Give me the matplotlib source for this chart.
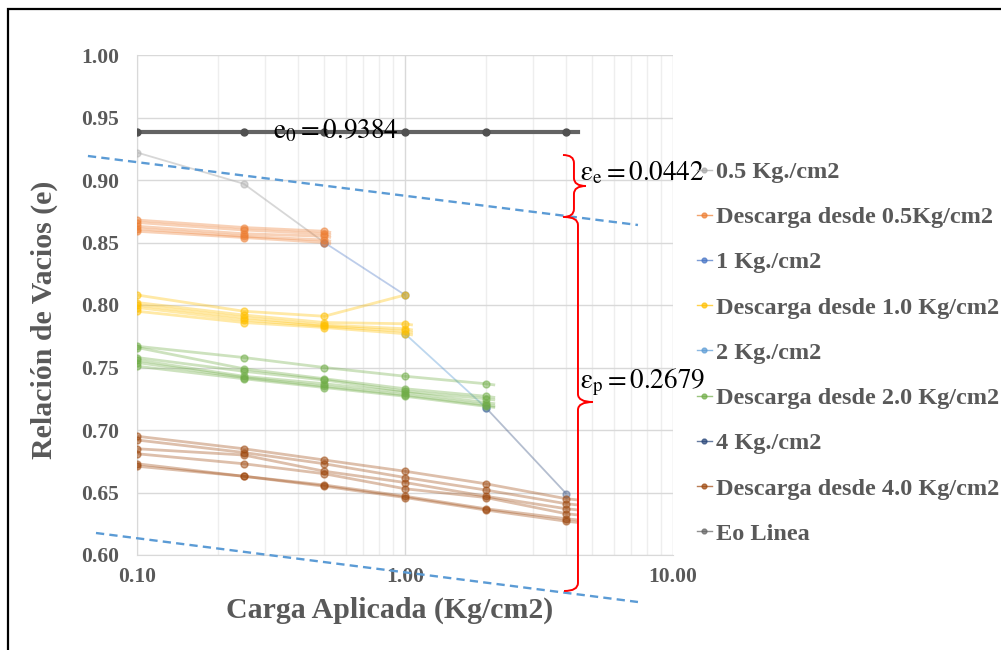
import numpy as np
import matplotlib
matplotlib.use("Agg")
import matplotlib.pyplot as plt
from matplotlib.lines import Line2D
from matplotlib.patches import PathPatch, Rectangle
from matplotlib.path import Path

plt.rcParams["font.family"] = ["Liberation Serif", "DejaVu Serif"]
plt.rcParams["mathtext.fontset"] = "stix"

# ---- datos del ensayo de consolidacion ----
# tramos de carga
carga_05_x = [0.1, 0.25, 0.5]
carga_05_e = [0.922, 0.897, 0.850]
carga_1_x = [0.5, 1.0]
carga_1_e = [0.850, 0.808]
carga_2_x = [1.0, 2.0]
carga_2_e = [0.777, 0.718]
carga_4_x = [2.0, 4.0]
carga_4_e = [0.718, 0.649]

# descargas (varias lecturas por escalon); ultimo valor = fin del trazo
desc_05_x = [0.1, 0.25, 0.5, 0.53]
desc_05_e = [
    [0.868, 0.862, 0.859, 0.858],
    [0.866, 0.860, 0.857, 0.856],
    [0.863, 0.857, 0.855, 0.854],
    [0.861, 0.855, 0.852, 0.851],
    [0.859, 0.854, 0.850, 0.849],
]
desc_10_x = [0.1, 0.25, 0.5, 1.0, 1.07]
desc_10_e = [
    [0.808, 0.795, 0.791, 0.808, np.nan],
    [0.802, 0.792, 0.786, 0.785, 0.784],
    [0.800, 0.790, 0.784, 0.781, 0.780],
    [0.798, 0.788, 0.783, 0.779, 0.778],
    [0.795, 0.786, 0.782, 0.777, 0.776],
]
desc_20_x = [0.1, 0.25, 0.5, 1.0, 2.0, 2.17]
desc_20_e = [
    [0.767, 0.758, 0.750, 0.743, 0.737, 0.736],
    [0.766, 0.749, 0.741, 0.733, 0.727, 0.726],
    [0.758, 0.747, 0.740, 0.731, 0.725, 0.724],
    [0.756, 0.743, 0.737, 0.730, 0.722, 0.721],
    [0.754, 0.742, 0.735, 0.728, 0.720, 0.719],
    [0.751, 0.741, 0.734, 0.727, 0.719, 0.718],
]
desc_40_x = [0.1, 0.25, 0.5, 1.0, 2.0, 4.0, 4.44]
desc_40_e = [
    [0.695, 0.685, 0.676, 0.667, 0.657, 0.645, 0.644],
    [0.692, 0.682, 0.673, 0.662, 0.652, 0.641, 0.640],
    [0.685, 0.680, 0.667, 0.658, 0.647, 0.637, 0.636],
    [0.681, 0.673, 0.665, 0.653, 0.646, 0.633, 0.632],
    [0.673, 0.663, 0.656, 0.647, 0.637, 0.629, 0.628],
    [0.671, 0.663, 0.655, 0.646, 0.636, 0.627, 0.626],
]
eo_x = [0.1, 0.25, 0.5, 1.0, 2.0, 4.0, 4.44]
eo = 0.9384

# rectas de referencia (trazos azules)
ref_sup_x, ref_sup_e = [0.0656, 7.40], [0.9192, 0.8640]
ref_inf_x, ref_inf_e = [0.0703, 7.40], [0.6176, 0.5624]

e0_txt = r"$\mathrm{e_0 = 0.9384}$"
ee_txt = r"$\mathrm{\varepsilon_e = 0.0442}$"
ep_txt = r"$\mathrm{\varepsilon_p = 0.2679}$"

labels = ["0.5 Kg./cm2", "Descarga desde 0.5Kg/cm2", "1 Kg./cm2",
          "Descarga desde 1.0 Kg/cm2", "2 Kg./cm2", "Descarga desde 2.0 Kg/cm2",
          "4 Kg./cm2", "Descarga desde 4.0 Kg/cm2", "Eo Linea"]
colors = ["#a5a5a5", "#ed7d31", "#4472c4", "#ffc000", "#5b9bd5",
          "#70ad47", "#264478", "#9e480e", "#636363"]
GRIS = "#595959"


def tramo(ax, x, e, color, alpha_l=0.35, lw=1.3, marks=None):
    n = len(x) if marks is None else marks
    ax.plot(x, e, color=color, lw=lw, alpha=alpha_l, solid_capstyle="butt", zorder=2)
    ax.plot(x[:n], e[:n], ls="none", marker="o", ms=5, mfc=color, mec=color,
            alpha=0.5, zorder=3)


def llave(ax, xv, y_top, y_bot, y_tip, brazo, punta, r=0.016):
    # llave "}" dibujada en coordenadas de ejes; xv en unidades de datos
    xa = (np.log10(xv) + 1) / 2
    yt, yb, ym = [(v - 0.6) / 0.4 for v in (y_top, y_bot, y_tip)]
    verts = [(xa - brazo, yt), (xa, yt), (xa, yt - r),
             (xa, ym + r), (xa, ym), (xa + punta, ym),
             (xa, ym), (xa, ym - r),
             (xa, yb + r), (xa, yb), (xa - brazo, yb)]
    codes = [Path.MOVETO, Path.CURVE3, Path.CURVE3,
             Path.LINETO, Path.CURVE3, Path.CURVE3,
             Path.CURVE3, Path.CURVE3,
             Path.LINETO, Path.CURVE3, Path.CURVE3]
    ax.add_patch(PathPatch(Path(verts, codes), fc="none", ec="#ff0000", lw=1.4,
                           transform=ax.transAxes, clip_on=False, zorder=6))


fig = plt.figure(figsize=(10.01, 6.5), dpi=100)
ax = fig.add_axes([137 / 1001, 1 - 555 / 650, 536 / 1001, 500 / 650])

# carga
tramo(ax, carga_05_x, carga_05_e, "#b0b0b0", alpha_l=0.5)
tramo(ax, carga_1_x, carga_1_e, colors[2], alpha_l=0.35)
tramo(ax, carga_2_x, carga_2_e, colors[4], alpha_l=0.4)
tramo(ax, carga_4_x, carga_4_e, "#5a6f96", alpha_l=0.45)

# descargas
for grupo_x, grupo_e, c in [(desc_05_x, desc_05_e, colors[1]),
                            (desc_10_x, desc_10_e, colors[3]),
                            (desc_20_x, desc_20_e, colors[5]),
                            (desc_40_x, desc_40_e, colors[7])]:
    for serie in grupo_e:
        tramo(ax, grupo_x, serie, c, alpha_l=0.35, lw=2.0, marks=len(grupo_x) - 1)

# linea eo
ax.plot(eo_x, [eo] * len(eo_x), color=colors[8], lw=3, zorder=4)
ax.plot(eo_x[:-1], [eo] * (len(eo_x) - 1), ls="none", marker="o", ms=5,
        color="#505050", zorder=5)

# rectas de referencia
for rx, re_ in [(ref_sup_x, ref_sup_e), (ref_inf_x, ref_inf_e)]:
    ax.plot(rx, re_, color="#5b9bd5", lw=1.7, dashes=(3.5, 2.2), clip_on=False, zorder=5)

llave(ax, 4.27, 0.920, 0.8704, 0.8952, 0.0205, 0.0224)
llave(ax, 4.42, 0.8704, 0.5712, 0.7224, 0.026, 0.028)

ax.text(0.322, 0.9336, e0_txt, fontsize=19.5, va="baseline", ha="left", zorder=7)
ax.text(4.49, 0.900, ee_txt, fontsize=19.5, va="baseline", ha="left", clip_on=False, zorder=7)
ax.text(4.49, 0.7336, ep_txt, fontsize=19.5, va="baseline", ha="left", clip_on=False, zorder=7)

# ejes
ax.set_xscale("log")
ax.set_xlim(0.1, 10)
ax.set_ylim(0.6, 1.0)
ax.set_yticks(np.arange(0.60, 1.001, 0.05))
ax.set_xticks([0.1, 1, 10])
ax.set_xticklabels(["0.10", "1.00", "10.00"])
ax.yaxis.set_major_formatter(matplotlib.ticker.FormatStrFormatter("%.2f"))
ax.grid(True, which="major", color="#d9d9d9", lw=1)
ax.grid(True, which="minor", axis="x", color="#eeeeee", lw=1)
ax.set_axisbelow(True)
for s in ax.spines.values():
    s.set_visible(False)
ax.spines["left"].set_visible(True)
ax.spines["bottom"].set_visible(True)
ax.spines["left"].set_color("#d9d9d9")
ax.spines["bottom"].set_color("#d9d9d9")
ax.tick_params(which="both", length=0, labelsize=15.5, colors=GRIS)
ax.tick_params(axis="y", pad=13)
ax.tick_params(axis="x", pad=9)
for t in ax.get_xticklabels() + ax.get_yticklabels():
    t.set_fontweight("bold")

ax.set_xlabel("Carga Aplicada (Kg/cm2)", fontsize=21.5, fontweight="bold", color=GRIS)
ax.xaxis.set_label_coords((390 - 137) / 536, -0.084)
ax.set_ylabel("Relación de Vacios (e)", fontsize=21.5, fontweight="bold", color=GRIS)
ax.yaxis.set_label_coords((58 - 137) / 536, 0.47)

# leyenda
handles = [Line2D([], [], color=c, lw=1, marker="o", ms=3.5, alpha=0.7) for c in colors]
fig.legend(handles, labels, loc="upper left", bbox_to_anchor=(697 / 1001, 1 - 161 / 650),
           frameon=False, prop={"weight": "bold", "size": 17.5}, labelcolor=GRIS,
           handlelength=0.6, handletextpad=0.2, labelspacing=0.955, borderaxespad=0,
           borderpad=0)

# marco exterior
fig.patches.append(Rectangle((8 / 1001, -0.1), 1.2, 1.1 - 9 / 650, transform=fig.transFigure,
                             fill=False, ec="black", lw=1.6))

fig.savefig("out.png", dpi=100)
